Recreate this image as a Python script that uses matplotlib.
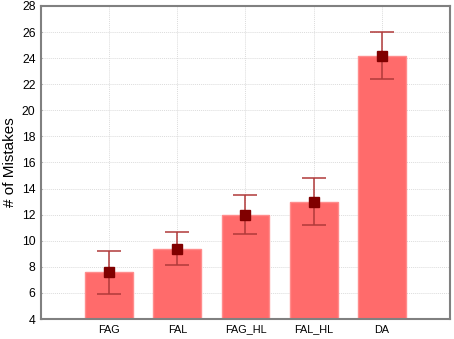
import matplotlib
matplotlib.use("Agg")
import matplotlib.pyplot as plt
import numpy as np

categories = ["FAG", "FAL", "FAG_HL", "FAL_HL", "DA"]
means = [7.62, 9.4, 11.98, 13.0, 24.2]
upper = [9.25, 10.7, 13.5, 14.8, 26.0]
lower = [5.92, 8.13, 10.5, 11.2, 22.4]
yticks = list(range(4, 29, 2))

plt.rcParams['font.family'] = ['Liberation Sans', 'DejaVu Sans']

fig = plt.figure(figsize=(4.54, 3.39), dpi=100)
L, R, T, B = 41, 450, 6, 319
ax = fig.add_axes([L/454, 1-B/339, (R-L)/454, (B-T)/339])

x = np.arange(len(categories))
ax.bar(x, [m - 4 for m in means], bottom=4, width=0.7, color="#FF6B6B",
       edgecolor="#FF8C8C", linewidth=1.0, zorder=2)
m = np.array(means)
yerr = np.array([m - np.array(lower), np.array(upper) - m])
ax.errorbar(x, means, yerr=yerr, fmt="none", ecolor="#B03A3A", elinewidth=1.3,
            capsize=8.5, capthick=1.3, zorder=3, alpha=0.85)
ax.plot(x, means, linestyle="none", marker="s", markersize=7,
        color="#800000", zorder=4)

ax.set_xlim(-1, 5)
ax.set_ylim(4, 28)
ax.set_yticks(yticks)
ax.set_xticks(x)
ax.set_xticklabels(categories, fontsize=7.8)
ax.tick_params(axis="y", labelsize=8.8, length=2, direction="inout", pad=3,
               color="#808080")
ax.tick_params(axis="x", length=2, direction="in", pad=4, color="#606060")
ax.grid(True, color="#DCDCDC", linestyle=(0, (1, 1)), linewidth=0.7, zorder=0)
ax.set_axisbelow(True)
for s in ax.spines.values():
    s.set_color("#808080")
    s.set_linewidth(1.5)
ax.set_ylabel("# of Mistakes", fontsize=11)
ax.yaxis.set_label_coords((17 - L) / (R - L), 0.5)

fig.savefig("out.png", dpi=100)
